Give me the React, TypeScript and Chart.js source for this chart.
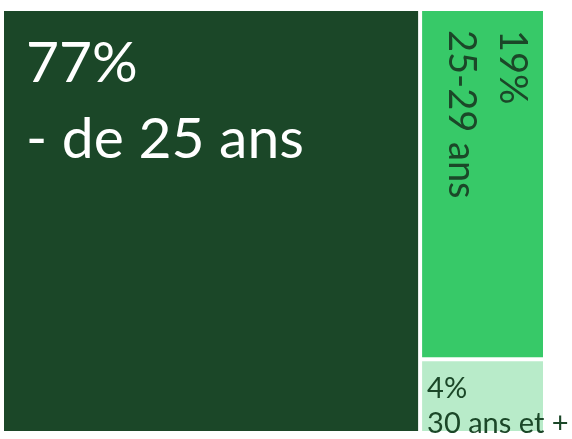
import React, { useEffect, useRef } from "react";
import { Chart, registerables } from "chart.js";

Chart.register(...registerables);

const categories = ["- de 25 ans", "25-29 ans", "30 ans et +"];
const shares = [77, 19, 4];
const valueLabels = ["77%", "19%", "4%"];

const cellColors = ["#1b4728", "#37c968", "#b8ebc9"];
const textColors = ["#ffffff", "#1b4728", "#1b4728"];
// label styles per cell: font size, offsets (px) relative to cell, rotation
const labelStyles = [
  { size: 57, dx: 22, dy: 71, lineGap: 76, rotate: false },
  { size: 38, dx: 19, dy: 43, lineGap: 51, rotate: true },
  { size: 29, dx: 5, dy: 37, lineGap: 35, rotate: false },
];
const GAP = 2;

type Cell = { x0: number; x1: number; y0: number; y1: number };

function layoutCells(): Cell[] {
  const total = shares.reduce((a, b) => a + b, 0);
  const firstW = (shares[0] / total) * 100;
  const rest = total - shares[0];
  const cells: Cell[] = [{ x0: 0, x1: firstW, y0: 0, y1: 100 }];
  let y = 0;
  for (let i = 1; i < shares.length; i++) {
    const h = (shares[i] / rest) * 100;
    cells.push({ x0: firstW, x1: 100, y0: y, y1: y + h });
    y += h;
  }
  return cells;
}

const treemapPlugin = {
  id: "treemapCells",
  afterDatasetsDraw(chart: any) {
    const ctx = chart.ctx as CanvasRenderingContext2D;
    const xs = chart.scales.x;
    const ys = chart.scales.y;
    const cells = layoutCells();
    ctx.save();
    cells.forEach((c, i) => {
      const left = xs.getPixelForValue(c.x0) + GAP;
      const right = xs.getPixelForValue(c.x1) - GAP;
      const top = ys.getPixelForValue(c.y0) + GAP;
      const bottom = ys.getPixelForValue(c.y1) - GAP;
      ctx.fillStyle = cellColors[i];
      ctx.fillRect(left, top, right - left, bottom - top);
    });
    cells.forEach((c, i) => {
      const left = xs.getPixelForValue(c.x0) + GAP;
      const right = xs.getPixelForValue(c.x1) - GAP;
      const top = ys.getPixelForValue(c.y0) + GAP;
      const st = labelStyles[i];
      ctx.fillStyle = textColors[i];
      ctx.font = `${st.size}px Lato, "Open Sans", sans-serif`;
      ctx.textAlign = "left";
      ctx.textBaseline = "alphabetic";
      const lines = [valueLabels[i], categories[i]];
      if (st.rotate) {
        ctx.save();
        ctx.translate(right, top);
        ctx.rotate(Math.PI / 2);
        lines.forEach((t, k) => ctx.fillText(t, st.dx, st.dy + k * st.lineGap));
        ctx.restore();
      } else {
        lines.forEach((t, k) => ctx.fillText(t, left + st.dx, top + st.dy + k * st.lineGap));
      }
    });
    ctx.restore();
  },
};

export default function App() {
  const ref = useRef<HTMLCanvasElement | null>(null);
  useEffect(() => {
    if (!ref.current) return;
    const chart = new Chart(ref.current, {
      type: "scatter",
      data: { datasets: [{ data: [] }] },
      options: {
        responsive: false,
        animation: false,
        layout: { padding: { left: 2, top: 9, right: 27, bottom: 6 } },
        plugins: { legend: { display: false }, tooltip: { enabled: false } },
        scales: {
          x: { type: "linear", min: 0, max: 100, display: false },
          y: { type: "linear", min: 0, max: 100, reverse: true, display: false },
        },
      },
      plugins: [treemapPlugin],
    });
    return () => chart.destroy();
  }, []);
  return (
    <div style={{ position: "fixed", left: 0, top: 0, width: 572, height: 439, background: "#ffffff" }}>
      <canvas ref={ref} width={572} height={439} />
    </div>
  );
}
